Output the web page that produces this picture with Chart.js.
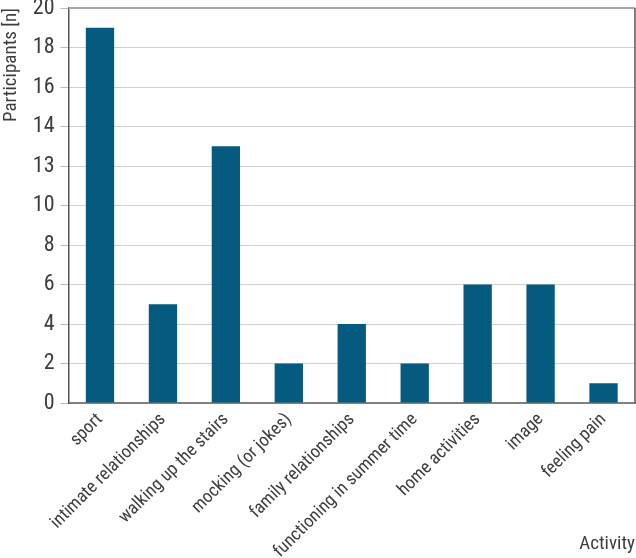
<!DOCTYPE html>
<html>
<head>
<meta charset="utf-8">
<script src="https://cdn.jsdelivr.net/npm/chart.js@4"></script>
<style>
  html, body { margin: 0; padding: 0; background: #fff; }
  #wrap { width: 636px; height: 558px; }
</style>
</head>
<body>
<div id="wrap"><canvas id="myChart"></canvas></div>
<script>
const categories = ['sport', 'intimate relationships', 'walking up the stairs', 'mocking (or jokes)',
  'family relationships', 'functioning in summer time', 'home activities', 'image', 'feeling pain'];
const participants = [19, 5, 13, 2, 4, 2, 6, 6, 1];
const tickValues = [0, 2, 4, 6, 8, 10, 12, 14, 16, 18, 20];
const tickLabels = ['0', '2', '4', '6', '8', '10', '13', '14', '16', '18', '20']; // as printed in the original

const FONT = '"Liberation Sans Narrow", "Roboto Condensed", "DejaVu Sans Condensed", sans-serif';
const TEXT = '#3d3d3d';

// top and right frame lines
const frame = {
  id: 'frame',
  afterDraw(chart) {
    const { ctx, chartArea: a } = chart;
    ctx.save();
    ctx.strokeStyle = '#a8a8a8';
    ctx.lineWidth = 2;
    ctx.beginPath();
    ctx.moveTo(a.left, a.top);
    ctx.lineTo(a.right, a.top);
    ctx.stroke();
    ctx.strokeStyle = '#555';
    ctx.lineWidth = 1.5;
    ctx.beginPath();
    ctx.moveTo(a.right, a.top);
    ctx.lineTo(a.right, a.bottom);
    ctx.stroke();
    ctx.restore();
  }
};

const ctx = document.getElementById('myChart');

new Chart(ctx, {
  type: 'bar',
  data: {
    labels: categories,
    datasets: [{
      data: participants,
      backgroundColor: '#045b7f',
      barPercentage: 0.45,
      categoryPercentage: 1
    }]
  },
  options: {
    responsive: true,
    maintainAspectRatio: false,
    animation: false,
    layout: { padding: { top: 8, right: 1, left: 0, bottom: 0 } },
    plugins: { legend: { display: false }, tooltip: { enabled: false } },
    scales: {
      x: {
        grid: { display: false, drawTicks: false },
        border: { color: '#808080', width: 2 },
        ticks: {
          color: TEXT,
          font: { family: FONT, size: 18 },
          minRotation: 45,
          maxRotation: 45,
          padding: 6,
          autoSkip: false
        },
        title: {
          display: true,
          text: 'Activity',
          align: 'end',
          color: TEXT,
          font: { family: FONT, size: 19 },
          padding: { top: -35, bottom: 2 }
        }
      },
      y: {
        min: 0,
        max: 20,
        afterBuildTicks(axis) {
          axis.ticks = tickValues.map(v => ({ value: v }));
        },
        afterFit(axis) {
          axis.paddingTop = 0;
        },
        grid: { color: '#d0d0d0', lineWidth: 1, tickLength: 8, tickColor: '#bdbdbd' },
        border: { color: '#555', width: 1.5 },
        ticks: {
          color: TEXT,
          font: { family: FONT, size: 22 },
          padding: 6,
          callback: (v, i) => tickLabels[i]
        },
        title: {
          display: true,
          text: 'Participants [n]',
          align: 'end',
          color: TEXT,
          font: { family: FONT, size: 19 },
          padding: { top: 0, bottom: 4 }
        }
      }
    }
  },
  plugins: [frame]
});
</script>
</body>
</html>
